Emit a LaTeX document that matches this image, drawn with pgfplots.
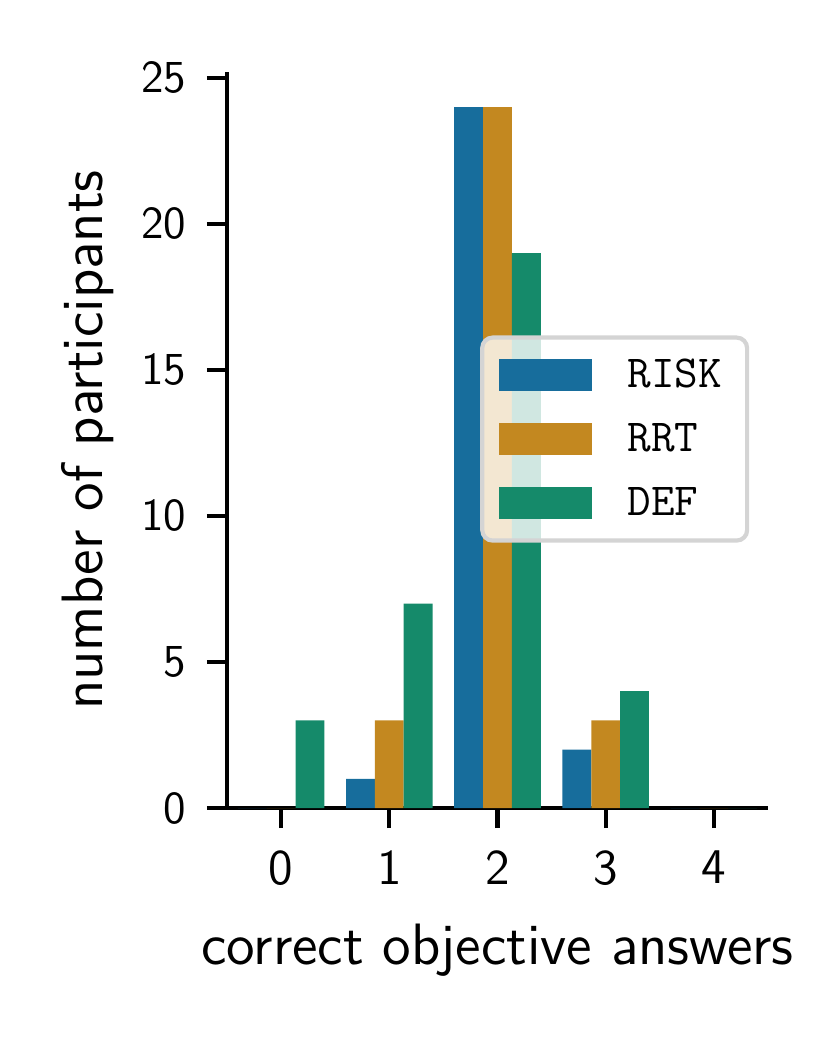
\documentclass[border=0pt]{standalone}
\usepackage{pgfplots}
\pgfplotsset{compat=1.18}
\renewcommand{\familydefault}{\sfdefault}
\definecolor{cbblue}{RGB}{23,109,156}
\definecolor{cborange}{RGB}{195,136,32}
\definecolor{cbgreen}{RGB}{21,138,106}
\begin{document}
\begin{tikzpicture}
\useasboundingbox (-54.48pt,-55.2pt) rectangle ++(199.2pt,249.12pt);
\begin{axis}[
  at={(0pt,0pt)}, anchor=south west,
  scale only axis, width=129.84pt, height=176.64pt,
  xmin=-0.5, xmax=4.5, ymin=0, ymax=25.2,
  axis x line*=bottom, axis y line*=left,
  axis line style={line width=0.8pt, -},
  xtick={0,1,2,3,4}, ytick={0,5,10,15,20,25},
  tick align=outside, major tick length=4.8pt,
  tick style={line width=1pt, black},
  /pgf/number format/assume math mode=true,
  xticklabel style={font=\fontsize{12}{14}\selectfont, yshift=-2pt},
  yticklabel style={font=\fontsize{11}{13}\selectfont, xshift=-1.5pt},
  xlabel={correct objective answers},
  ylabel={number of participants},
  xlabel style={font=\fontsize{14}{16}\selectfont, at={(axis description cs:0.5,-0.212)}, anchor=base},
  ylabel style={font=\fontsize{14}{16}\selectfont, at={(axis description cs:-0.2292,0.5)}, anchor=base},
  legend style={at={(0.468,0.642)}, anchor=north west,
    draw=black!17, line width=1pt, rounded corners=2.5pt,
    fill=white, fill opacity=0.8, text opacity=1,
    font=\fontsize{11}{13}\selectfont\ttfamily,
    nodes={inner sep=0pt, text height=7pt, text depth=1pt},
    row sep=7.36pt, column sep=8.6pt,
    inner xsep=4pt, inner ysep=5pt},
  legend cell align=left,
]
\addplot[ybar, bar width=0.2667, bar shift=-0.2667, fill=cbblue, draw=none,
  legend image code/.code={\fill[cbblue, sharp corners, fill opacity=1] (0pt,-3.85pt) rectangle (22.3pt,3.85pt);}]
  coordinates {(0,0) (1,1) (2,24) (3,2) (4,0)};
\addlegendentry{RISK\hspace*{2pt}}
\addplot[ybar, bar width=0.2667, bar shift=0, fill=cborange, draw=none,
  legend image code/.code={\fill[cborange, sharp corners, fill opacity=1] (0pt,-3.85pt) rectangle (22.3pt,3.85pt);}]
  coordinates {(0,0) (1,3) (2,24) (3,3) (4,0)};
\addlegendentry{RRT}
\addplot[ybar, bar width=0.2667, bar shift=0.2667, fill=cbgreen, draw=none,
  legend image code/.code={\fill[cbgreen, sharp corners, fill opacity=1] (0pt,-3.85pt) rectangle (22.3pt,3.85pt);}]
  coordinates {(0,3) (1,7) (2,19) (3,4) (4,0)};
\addlegendentry{DEF}
\end{axis}
\end{tikzpicture}
\end{document}
